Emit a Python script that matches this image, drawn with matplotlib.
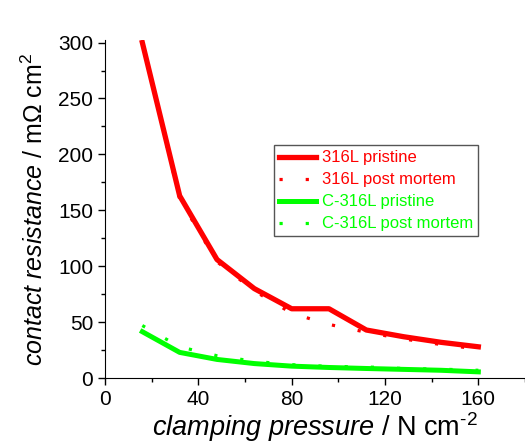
import matplotlib
matplotlib.use('Agg')
import matplotlib.pyplot as plt
from matplotlib.ticker import MultipleLocator

plt.rcParams['font.family'] = ['Liberation Sans', 'DejaVu Sans']
plt.rcParams['mathtext.fontset'] = 'custom'
plt.rcParams['mathtext.rm'] = 'Liberation Sans'
plt.rcParams['mathtext.it'] = 'Liberation Sans:italic'

# pressure / N cm^-2
pressure = [16, 32, 48, 64, 80, 96, 112, 128, 144, 160]
# contact resistance / mOhm cm^2
r316_pristine = [300, 163, 106, 80, 62, 62, 43, 37, 32, 28]
r316_post = [300, 160, 104, 78, 58, 48, 41, 35, 30, 26]
c316_pristine = [41.5, 23, 16.7, 13, 10.7, 9.5, 8.6, 7.8, 7, 5.6]
c316_post = [47, 28, 20, 15, 12, 10.5, 10, 8.6, 8, 7]

red = '#ff0000'
green = '#00ff00'
dots = (0, (1, 7.2))

fig = plt.figure(figsize=(5.25, 4.48), dpi=100)
ax = fig.add_axes([0.2, 0.156, 0.8, 0.754])

ax.plot(pressure, r316_pristine, color=red, lw=3.8, label='316L pristine')
ax.plot(pressure, r316_post, color=red, lw=2.3, ls=dots, dash_capstyle='butt', label='316L post mortem')
ax.plot(pressure, c316_pristine, color=green, lw=3.6, label='C-316L pristine')
ax.plot(pressure, c316_post, color=green, lw=2.3, ls=dots, dash_capstyle='butt', label='C-316L post mortem')

ax.set_xlim(0, 180)
ax.set_ylim(0, 302)
ax.xaxis.set_minor_locator(MultipleLocator(20))
ax.yaxis.set_major_locator(MultipleLocator(50))
ax.yaxis.set_minor_locator(MultipleLocator(25))
ax.set_xticks([0, 40, 80, 120, 160])
ax.tick_params(which='major', direction='out', length=5, width=1, labelsize=15)
ax.tick_params(which='minor', direction='out', length=3, width=1)
ax.spines['top'].set_visible(False)
ax.spines['right'].set_visible(False)

ax.set_xlabel(r'$\it{clamping\ pressure}$ / N cm$^{\text{-}2}$', fontsize=19.5, labelpad=1)
ax.set_ylabel(r'$\it{contact\ resistance}$ / m$\Omega$ cm$^{2}$', fontsize=18, labelpad=7)

# legend text coloured like its line
leg = ax.legend(loc='upper left', bbox_to_anchor=(0.402, 0.689), borderaxespad=0,
                fontsize=12, handlelength=2.2, fancybox=False, framealpha=1,
                edgecolor='#555555', borderpad=0.3, labelspacing=0.42, handletextpad=0.4)
for t, c in zip(leg.get_texts(), [red, red, green, green]):
    t.set_color(c)

fig.savefig('out.png', dpi=100)
